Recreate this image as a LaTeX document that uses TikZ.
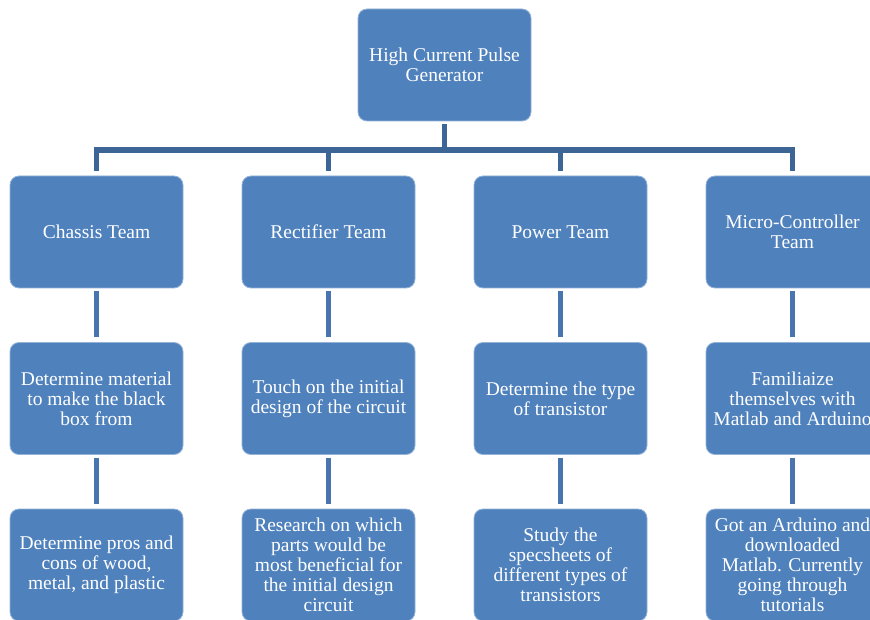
\documentclass[tikz,border=0pt]{standalone}
\usepackage{fontspec}
\setmainfont{Liberation Serif}
\usetikzlibrary{positioning, calc}
\definecolor{boxblue}{RGB}{79, 129, 189}
\definecolor{busblue}{RGB}{61, 101, 150}
\definecolor{linkblue}{RGB}{72, 117, 175}

\begin{document}
\begin{tikzpicture}[x=1pt, y=-1pt,
  teambox/.style={draw=boxblue!60!white, line width=0.8pt, fill=boxblue, rounded corners=9pt,
    minimum width=173pt, minimum height=112pt, inner sep=2pt,
    text=white, align=center, font=\fontsize{19.5}{20}\selectfont},
  bus/.style={draw=busblue, line width=5.5pt},
  link/.style={draw=linkblue, line width=5.5pt, shorten <=3pt, shorten >=5pt}]
  \useasboundingbox (0,0) rectangle (870,620);
  \clip (0,0) rectangle (870,620);

  % top of the chart
  \node[teambox] (pulse) at (444.5,65) {High Current Pulse\\Generator};

  % the four teams
  \node[teambox] (chassis) at (96.5,232) {Chassis Team};
  \node[teambox] (rectifier) at (328.5,232) {Rectifier Team};
  \node[teambox] (power) at (560.5,232) {Power Team};
  \node[teambox] (micro) at (792.5,232) {Micro-Controller\\Team};

  % first tasks
  \node[teambox] (chassisA) at (96.5,398.5) {Determine material\\to make the black\\box from};
  \node[teambox] (rectifierA) at (328.5,398.5) {Touch on the initial\\design of the circuit};
  \node[teambox] (powerA) at (560.5,398.5) {Determine the type\\of transistor};
  \node[teambox] (microA) at (792.5,398.5) {Familiaize\\themselves with\\Matlab and Arduino};

  % second tasks
  \node[teambox] (chassisB) at (96.5,565) {Determine pros and\\cons of wood,\\metal, and plastic};
  \node[teambox] (rectifierB) at (328.5,565) {Research on which\\parts would be\\most beneficial for\\the initial design\\circuit};
  \node[teambox] (powerB) at (560.5,565) {Study the\\specsheets of\\different types of\\transistors};
  \node[teambox] (microB) at (792.5,565) {Got an Arduino and\\downloaded\\Matlab. Currently\\going through\\tutorials};

  % connectors
  \coordinate (busline) at (444.5,150);
  \draw[bus, shorten <=3pt] (pulse.south) -- (busline);
  \foreach \team in {chassis, rectifier, power, micro}
    \draw[bus, shorten >=5pt] (busline) -| (\team.north);
  \foreach \team in {chassis, rectifier, power, micro} {
    \draw[link] (\team.south) -- (\team A.north);
    \draw[link] (\team A.south) -- (\team B.north);
  }
\end{tikzpicture}
\end{document}
